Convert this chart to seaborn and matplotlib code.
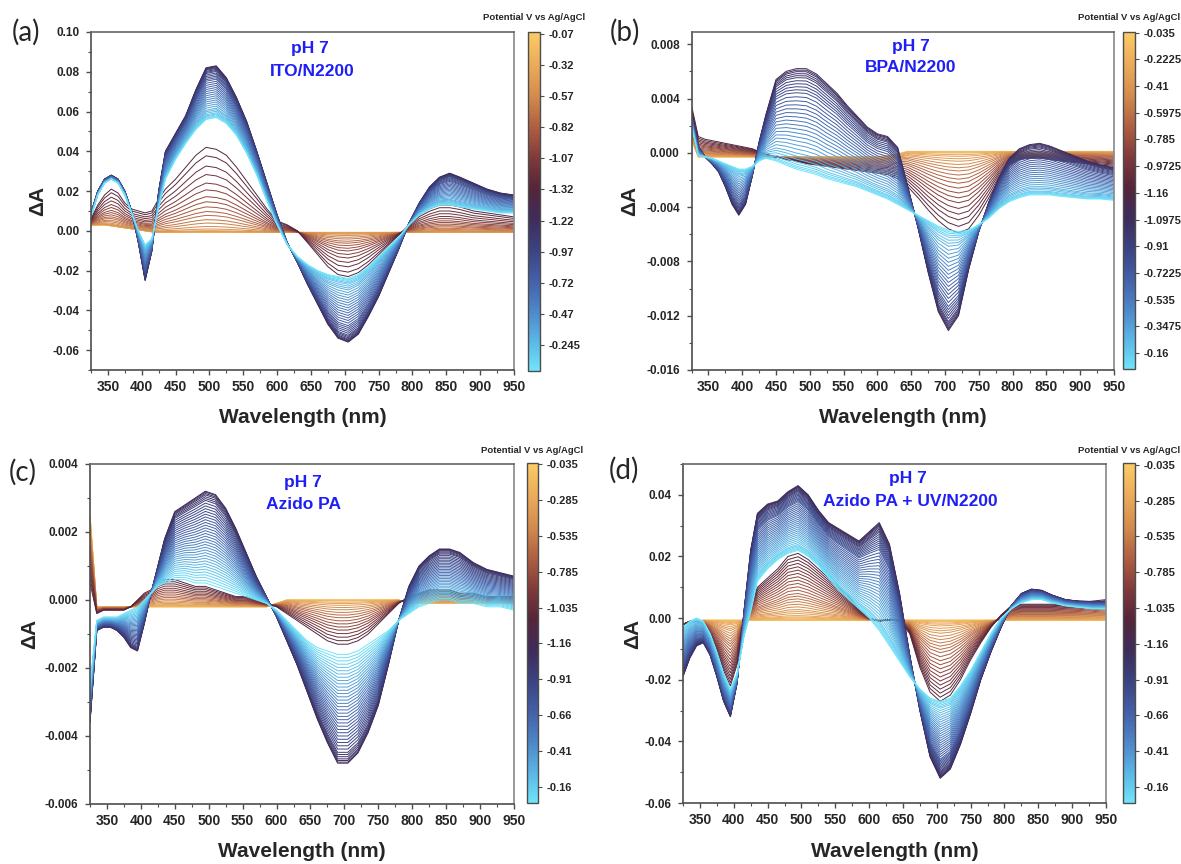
import numpy as np
import pandas as pd
import matplotlib
matplotlib.use("Agg")
import matplotlib.pyplot as plt
import seaborn as sns
from matplotlib.colors import LinearSegmentedColormap, Normalize
from matplotlib.cm import ScalarMappable
from matplotlib.ticker import MultipleLocator

# ---------------- data ----------------
WL = [325, 335, 345, 355, 365, 375, 385, 395, 405, 415, 425, 435,
      450, 465, 480, 495, 510, 525, 540, 555, 570, 585, 600, 615, 630, 645,
      660, 675, 690, 705, 720, 735, 750, 765, 780, 795, 810, 825, 840, 855,
      870, 890, 910, 930, 950]

# panel (a) ITO/N2200
A_BASE = [0.003, 0.003, 0.003, 0.0025, 0.002, 0.0015, 0.001, 0.0005, 0.0, -0.0005, -0.0008, -0.0008,
          -0.0008, -0.0008, -0.0008, -0.0008, -0.0008, -0.0008, -0.0008, -0.0008, -0.0008, -0.0008,
          -0.0008, -0.0008, -0.0008, -0.0008, -0.0008, -0.0008, -0.0008, -0.0008, -0.0008, -0.0008,
          -0.0008, -0.0008, -0.0008, -0.0008, -0.0008, -0.0008, -0.0008, -0.0008, -0.0008, -0.0008,
          -0.0008, -0.0008, -0.0008]
A_MAROON = [0.006, 0.013, 0.018, 0.021, 0.019, 0.014, 0.011, 0.010, 0.009, 0.010, 0.016, 0.021,
            0.026, 0.032, 0.038, 0.042, 0.041, 0.038, 0.032, 0.025, 0.018, 0.011, 0.005, 0.003,
            0.0, -0.006, -0.012, -0.018, -0.022, -0.023, -0.021, -0.017, -0.012, -0.007, -0.002,
            0.003, 0.008, 0.011, 0.013, 0.013, 0.012, 0.010, 0.009, 0.008, 0.007]
A_NAVY = [0.009, 0.020, 0.026, 0.028, 0.026, 0.020, 0.010, -0.006, -0.025, -0.010, 0.020, 0.040,
          0.049, 0.058, 0.071, 0.082, 0.083, 0.077, 0.067, 0.055, 0.040, 0.024, 0.008, -0.006,
          -0.016, -0.027, -0.037, -0.047, -0.054, -0.056, -0.052, -0.043, -0.033, -0.021, -0.009,
          0.004, 0.014, 0.022, 0.027, 0.029, 0.027, 0.024, 0.021, 0.019, 0.018]
A_CYAN = [0.007, 0.018, 0.024, 0.026, 0.024, 0.018, 0.009, 0.000, -0.007, -0.004, 0.012, 0.026,
          0.036, 0.044, 0.051, 0.056, 0.057, 0.054, 0.048, 0.039, 0.028, 0.015, 0.003, -0.007,
          -0.013, -0.017, -0.020, -0.022, -0.023, -0.024, -0.022, -0.018, -0.013, -0.008, -0.003,
          0.003, 0.008, 0.011, 0.013, 0.013, 0.012, 0.011, 0.010, 0.009, 0.009]
A_FWD = [0.0, 0.0, 0.0, 0.002, 0.004, 0.006, 0.01, 0.02, 0.04, 0.07, 0.11, 0.15, 0.20, 0.245,
         0.30, 0.36, 0.42, 0.50, 0.58, 0.68, 0.78, 0.90, 1.0]
A_REV = [0.0, 0.01, 0.02, 0.035, 0.05, 0.07, 0.09, 0.11, 0.14, 0.17, 0.20, 0.23, 0.26, 0.30,
         0.34, 0.38, 0.42, 0.46, 0.50, 0.54, 0.58, 0.62, 0.66, 0.70, 0.74, 0.78, 0.82, 0.85,
         0.88, 0.91, 0.93, 0.95, 0.97, 0.985, 1.0]

# panel (b) BPA/N2200
B_BASE = [0.001, -0.0003, -0.0003, -0.0003, -0.0003, -0.0003, -0.0003, -0.0003, -0.0003, -0.0003,
          -0.0003, -0.0003, -0.0003, -0.0003, -0.0003, -0.0003, -0.0003, -0.0003, -0.0003, -0.0003,
          -0.0003, -0.0003, -0.0003, -0.0002, -0.0001, 0.0001, 0.0001, 0.0001, 0.0001, 0.0001,
          0.0001, 0.0001, 0.0001, 0.0001, 0.0001, 0.0001, 0.0001, 0.0001, 0.0001, 0.0001,
          0.0001, 0.0001, 0.0001, 0.0001, 0.0001]
B_MAROON = [0.0035, 0.0012, 0.0010, 0.0009, 0.0008, 0.0007, 0.0006, 0.0005, 0.0004, 0.0003,
            0.0001, -0.0001, -0.0003, -0.0005, -0.0006, -0.0008, -0.0009, -0.0010, -0.0011,
            -0.0012, -0.0013, -0.0014, -0.0015, -0.0016, -0.0019, -0.0025, -0.0033, -0.0042,
            -0.0050, -0.0056, -0.0059, -0.0056, -0.0046, -0.0033, -0.0019, -0.0009, -0.0005,
            -0.0004, -0.0004, -0.0005, -0.0006, -0.0007, -0.0008, -0.0009, -0.0010]
B_NAVY = [0.003, 0.0005, -0.0003, -0.0008, -0.0014, -0.0025, -0.0038, -0.0046, -0.0038, -0.0017,
          0.0008, 0.0028, 0.0054, 0.0060, 0.0062, 0.0062, 0.0058, 0.0051, 0.0044, 0.0035,
          0.0027, 0.0019, 0.0014, 0.0012, 0.0004, -0.0025, -0.0055, -0.0088, -0.0117, -0.0131,
          -0.0120, -0.0086, -0.0058, -0.0036, -0.0018, -0.0004, 0.0003, 0.0006, 0.0007, 0.0005,
          0.0002, -0.0002, -0.0006, -0.0009, -0.0011]
B_CYAN = [0.002, -0.0002, -0.0003, -0.0004, -0.0006, -0.0008, -0.0010, -0.0012, -0.0012, -0.0010,
          -0.0006, -0.0004, -0.0006, -0.0009, -0.0012, -0.0014, -0.0016, -0.0019, -0.0021, -0.0023,
          -0.0025, -0.0028, -0.0031, -0.0034, -0.0038, -0.0042, -0.0046, -0.0050, -0.0054, -0.0057,
          -0.0058, -0.0057, -0.0053, -0.0048, -0.0041, -0.0036, -0.0033, -0.0031, -0.0031, -0.0031,
          -0.0032, -0.0033, -0.0034, -0.0034, -0.0035]
B_FWD = [0.0, 0.0, 0.0, 0.01, 0.02, 0.04, 0.06, 0.09, 0.12, 0.16, 0.20, 0.24, 0.29, 0.34, 0.39,
         0.45, 0.51, 0.57, 0.63, 0.70, 0.77, 0.84, 0.92, 1.0]
B_REV = [0.0, 0.015, 0.03, 0.05, 0.07, 0.09, 0.12, 0.15, 0.18, 0.21, 0.24, 0.28, 0.32, 0.36,
         0.40, 0.44, 0.48, 0.52, 0.56, 0.60, 0.64, 0.68, 0.72, 0.76, 0.80, 0.84, 0.87, 0.90,
         0.93, 0.95, 0.97, 0.985, 1.0]

# panel (c) Azido PA
C_BASE = [0.0025, -0.0002, -0.0002, -0.0002, -0.0002, -0.0002, -0.0002, -0.0002, -0.0002, -0.0002,
          -0.0002, -0.0002, -0.0002, -0.0002, -0.0002, -0.0002, -0.0002, -0.0002, -0.0002, -0.0002,
          -0.0002, -0.0002, -0.0001, 0.0, 0.0, 0.0, 0.0, 0.0, 0.0, 0.0, 0.0, 0.0, 0.0, 0.0, 0.0,
          -0.0001, -0.0001, -0.0001, -0.0001, -0.0001, -0.0001, -0.0001, -0.0001, -0.0001, -0.0001]
C_MAROON = [0.0005, -0.0004, -0.0003, -0.0003, -0.0003, -0.0003, -0.0002, 0.0, 0.0002, 0.0003,
            0.0005, 0.0006, 0.0006, 0.0005, 0.0004, 0.0004, 0.0003, 0.0002, 0.0001, 0.0001,
            0.0, -0.0001, -0.0002, -0.0004, -0.0006, -0.0008, -0.0010, -0.0012, -0.0013, -0.0013,
            -0.0012, -0.0010, -0.0007, -0.0004, -0.0001, 0.0001, 0.0002, 0.0003, 0.0003, 0.0003,
            0.0002, 0.0002, 0.0001, 0.0001, 0.0001]
C_NAVY = [-0.0036, -0.0009, -0.0008, -0.0008, -0.0009, -0.0011, -0.0014, -0.0015, -0.0007, 0.0002,
          0.0010, 0.0018, 0.0026, 0.0028, 0.0030, 0.0032, 0.0031, 0.0027, 0.0021, 0.0014,
          0.0007, 0.0001, -0.0005, -0.0012, -0.0019, -0.0027, -0.0035, -0.0042, -0.0048, -0.0048,
          -0.0045, -0.0039, -0.0031, -0.0019, -0.0006, 0.0004, 0.0010, 0.0013, 0.0015, 0.0015,
          0.0014, 0.0011, 0.0009, 0.0008, 0.0007]
C_CYAN = [-0.0025, -0.0006, -0.0005, -0.0005, -0.0005, -0.0004, -0.0003, -0.0002, 0.0, 0.0002,
          0.0004, 0.0005, 0.0006, 0.0006, 0.0005, 0.0005, 0.0004, 0.0003, 0.0002, 0.0001,
          0.0, -0.0001, -0.0003, -0.0006, -0.0009, -0.0012, -0.0014, -0.0015, -0.0016, -0.0016,
          -0.0015, -0.0013, -0.0011, -0.0009, -0.0006, -0.0004, -0.0002, -0.0001, 0.0, 0.0,
          -0.0001, -0.0001, -0.0002, -0.0002, -0.0003]
C_FWD = [0.0, 0.0, 0.0, 0.02, 0.05, 0.08, 0.12, 0.17, 0.22, 0.28, 0.34, 0.40, 0.47, 0.54, 0.61,
         0.68, 0.76, 0.84, 0.92, 1.0]
C_REV = [0.0, 0.01, 0.025, 0.04, 0.06, 0.08, 0.10, 0.13, 0.16, 0.19, 0.22, 0.25, 0.28, 0.31,
         0.34, 0.37, 0.40, 0.43, 0.46, 0.49, 0.52, 0.55, 0.58, 0.61, 0.64, 0.67, 0.70, 0.73,
         0.76, 0.79, 0.82, 0.85, 0.88, 0.91, 0.94, 0.97, 1.0]

# panel (d) Azido PA + UV/N2200
D_BASE = [-0.002, -0.0015, -0.001, -0.0007, -0.0007, -0.0007, -0.0007, -0.0007, -0.0007, -0.0007,
          -0.0007, -0.0007, -0.0007, -0.0007, -0.0007, -0.0007, -0.0007, -0.0007, -0.0007, -0.0007,
          -0.0007, -0.0007, -0.0007, -0.0007, -0.0007, -0.0007, -0.0007, -0.0007, -0.0007, -0.0007,
          -0.0007, -0.0007, -0.0007, -0.0007, -0.0007, -0.0007, -0.0007, -0.0007, -0.0007, -0.0007,
          -0.0007, -0.0007, -0.0007, -0.0007, -0.0007]
D_MAROON = [-0.002, -0.001, -0.001, -0.002, -0.006, -0.011, -0.017, -0.022, -0.015, 0.0,
            0.005, 0.010, 0.013, 0.016, 0.020, 0.021, 0.019, 0.016, 0.013, 0.010,
            0.007, 0.003, 0.0, -0.001, -0.0005, -0.001, -0.005, -0.016, -0.024, -0.027,
            -0.025, -0.020, -0.0135, -0.008, -0.003, 0.001, 0.004, 0.0045, 0.0045, 0.0045,
            0.0045, 0.0048, 0.005, 0.0055, 0.006]
D_NAVY = [-0.019, -0.013, -0.009, -0.008, -0.012, -0.019, -0.027, -0.032, -0.021, 0.002,
          0.022, 0.034, 0.037, 0.038, 0.041, 0.043, 0.040, 0.035, 0.031, 0.029,
          0.027, 0.025, 0.028, 0.031, 0.024, 0.008, -0.012, -0.030, -0.045, -0.052,
          -0.049, -0.041, -0.031, -0.020, -0.011, -0.003, 0.004, 0.008, 0.0094, 0.009,
          0.0075, 0.006, 0.0055, 0.0054, 0.0054]
D_CYAN = [-0.003, -0.001, 0.0, -0.001, -0.005, -0.011, -0.018, -0.023, -0.018, -0.006,
          0.002, 0.012, 0.016, 0.019, 0.021, 0.022, 0.020, 0.017, 0.013, 0.009,
          0.006, 0.003, 0.0, -0.004, -0.009, -0.014, -0.019, -0.023, -0.026, -0.027,
          -0.026, -0.022, -0.017, -0.011, -0.005, 0.0, 0.003, 0.005, 0.006, 0.006,
          0.005, 0.004, 0.0035, 0.003, 0.003]
D_FWD = [0.0, 0.0, 0.0, 0.01, 0.02, 0.035, 0.05, 0.07, 0.10, 0.13, 0.16, 0.20, 0.24, 0.28,
         0.32, 0.36, 0.40, 0.45, 0.50, 0.55, 0.60, 0.65, 0.70, 0.75, 0.80, 0.85, 0.90, 0.95, 1.0]
D_REV = [0.0, 0.01, 0.02, 0.03, 0.045, 0.06, 0.075, 0.09, 0.11, 0.13, 0.15, 0.17, 0.19, 0.21,
         0.23, 0.25, 0.28, 0.31, 0.34, 0.37, 0.40, 0.43, 0.46, 0.49, 0.52, 0.55, 0.58, 0.61,
         0.64, 0.67, 0.70, 0.73, 0.76, 0.79, 0.82, 0.85, 0.88, 0.91, 0.93, 0.95, 0.97, 0.985, 1.0]

X_TICKS = [350, 400, 450, 500, 550, 600, 650, 700, 750, 800, 850, 900, 950]
A_YTICKS = [-0.06, -0.04, -0.02, 0.00, 0.02, 0.04, 0.06, 0.08, 0.10]
B_YTICKS = [-0.016, -0.012, -0.008, -0.004, 0.000, 0.004, 0.008]
C_YTICKS = [-0.006, -0.004, -0.002, 0.000, 0.002, 0.004]
D_YTICKS = [-0.06, -0.04, -0.02, 0.00, 0.02, 0.04]

A_CB = ['-0.07', '-0.32', '-0.57', '-0.82', '-1.07', '-1.32', '-1.22', '-0.97', '-0.72', '-0.47', '-0.245']
B_CB = ['-0.035', '-0.2225', '-0.41', '-0.5975', '-0.785', '-0.9725', '-1.16', '-1.0975', '-0.91',
        '-0.7225', '-0.535', '-0.3475', '-0.16']
C_CB = ['-0.035', '-0.285', '-0.535', '-0.785', '-1.035', '-1.16', '-0.91', '-0.66', '-0.41', '-0.16']
D_CB = ['-0.035', '-0.285', '-0.535', '-0.785', '-1.035', '-1.16', '-0.91', '-0.66', '-0.41', '-0.16']

TITLES = [("pH 7", "ITO/N2200"), ("pH 7", "BPA/N2200"), ("pH 7", "Azido PA"),
          ("pH 7", "Azido PA + UV/N2200")]
LETTERS = ["(a)", "(b)", "(c)", "(d)"]

# colormap, top (t=0) to bottom (t=1)
CMAP_POS = [0.0, 0.10, 0.19, 0.28, 0.37, 0.46, 0.555, 0.65, 0.74, 0.83, 0.92, 1.0]
CMAP_COLORS = ['#FBCB66', '#EAA95A', '#D28A4C', '#AE5E42', '#803A3A', '#55253A',
               '#3E2C5C', '#3B4585', '#4562AA', '#4E8ACA', '#5CBAE7', '#70E4FA']
CMAP = LinearSegmentedColormap.from_list("pot", list(zip(CMAP_POS, CMAP_COLORS)))

# ---------------- style ----------------
sns.set_theme(style="white")
plt.rcParams['font.family'] = ['Liberation Sans', 'DejaVu Sans']

W, H = 1181, 864
fig = plt.figure(figsize=(W / 100, H / 100), dpi=100)


def fx(px):
    return px / W


def fy(py):
    return 1 - py / H


panels = [
    dict(data=(A_BASE, A_MAROON, A_NAVY, A_CYAN, A_FWD, A_REV), yt=A_YTICKS, fmt="{:.2f}",
         ylim=(-0.07, 0.10), minor=0.01, cb=A_CB, cb_t0=0.005, cb_dt=0.0919,
         ax_px=(91, 32, 514, 370), cb_px=(528, 32, 540, 371), cbt=(534, 18),
         ylab_x=-0.125, xlab_y=-0.142, letter=(12, 32), title=((310, 49), (312, 71))),
    dict(data=(B_BASE, B_MAROON, B_NAVY, B_CYAN, B_FWD, B_REV), yt=B_YTICKS, fmt="{:.3f}",
         ylim=(-0.016, 0.0089), minor=0.002, cb=B_CB, cb_t0=0.002, cb_dt=0.0792,
         ax_px=(691.5, 32, 1114, 370), cb_px=(1123, 32, 1135, 369), cbt=(1129, 17),
         ylab_x=-0.146, xlab_y=-0.142, letter=(610, 32), title=((911, 47), (911, 68))),
    dict(data=(C_BASE, C_MAROON, C_NAVY, C_CYAN, C_FWD, C_REV), yt=C_YTICKS, fmt="{:.3f}",
         ylim=(-0.006, 0.004), minor=0.001, cb=C_CB, cb_t0=0.004, cb_dt=0.1053,
         ax_px=(90, 464, 514, 804), cb_px=(526.5, 463, 538, 803), cbt=(532, 450),
         ylab_x=-0.142, xlab_y=-0.141, letter=(9, 472), title=((303, 483), (303, 505))),
    dict(data=(D_BASE, D_MAROON, D_NAVY, D_CYAN, D_FWD, D_REV), yt=D_YTICKS, fmt="{:.2f}",
         ylim=(-0.06, 0.05), minor=0.01, cb=D_CB, cb_t0=0.005, cb_dt=0.1053,
         ax_px=(683, 464, 1106, 803), cb_px=(1123, 463, 1135, 803), cbt=(1129, 450),
         ylab_x=-0.12, xlab_y=-0.144, letter=(609, 470), title=((908, 479), (910, 501))),
]

SPINE = '#4d4d4d'

for k, p in enumerate(panels):
    x0, y0, x1, y1 = p['ax_px']
    ax = fig.add_axes([fx(x0), fy(y1), fx(x1 - x0), (y1 - y0) / H])
    base, maroon, navy, cyan, fwd, rev = p['data']

    rows = []
    pal = {}
    cid = 0
    nf, nr = len(fwd), len(rev)
    for i, f in enumerate(fwd):
        vals = [b + f * (m - b) for b, m in zip(base, maroon)]
        for w_, v in zip(WL, vals):
            rows.append((cid, w_, v))
        pal[cid] = CMAP(0.47 * i / (nf - 1))
        cid += 1
    for j, w in enumerate(rev):
        vals = [n + w * (c - n) for n, c in zip(navy, cyan)]
        for w_, v in zip(WL, vals):
            rows.append((cid, w_, v))
        pal[cid] = CMAP(0.54 + 0.46 * j / (nr - 1))
        cid += 1
    df = pd.DataFrame(rows, columns=['curve', 'wl', 'dA'])
    sns.lineplot(data=df, x='wl', y='dA', hue='curve', palette=pal, hue_order=list(pal.keys()),
                 linewidth=0.7, legend=False, estimator=None, sort=False, ax=ax)

    ax.set_xlim(325, 950)
    ax.set_ylim(*p['ylim'])
    ax.set_xticks(X_TICKS, [str(t) for t in X_TICKS], fontsize=10, fontweight='bold')
    ax.set_yticks(p['yt'], [p['fmt'].format(t) for t in p['yt']], fontsize=8.5, fontweight='bold')
    ax.xaxis.set_minor_locator(MultipleLocator(25))
    ax.yaxis.set_minor_locator(MultipleLocator(p['minor']))
    ax.tick_params(which='major', direction='out', length=3.5, width=1, color=SPINE,
                   bottom=True, left=True, top=False, right=False)
    ax.tick_params(which='minor', direction='out', length=2, width=0.8, color=SPINE,
                   bottom=True, left=True, top=False, right=False)
    ax.tick_params(axis='x', pad=4)
    ax.tick_params(axis='y', pad=5)
    for s in ax.spines.values():
        s.set_color(SPINE)
        s.set_linewidth(1.2)
    ax.spines['top'].set_color('#666666')
    ax.spines['right'].set_color('#888888')

    ax.set_xlabel('Wavelength (nm)', fontsize=15, fontweight='bold')
    ax.set_ylabel('ΔA', fontsize=15, fontweight='bold')
    ax.xaxis.label.set_va('center')
    ax.yaxis.label.set_va('center')
    ax.xaxis.set_label_coords(0.5, p['xlab_y'])
    ax.yaxis.set_label_coords(p['ylab_x'], 0.5)

    # annotation text
    (t1x, t1y), (t2x, t2y) = p['title']
    fig.text(fx(t1x), fy(t1y), TITLES[k][0], color='#1E1EF5', fontsize=12.5, fontweight='bold',
             ha='center', va='center')
    fig.text(fx(t2x), fy(t2y), TITLES[k][1], color='#1E1EF5', fontsize=12.5, fontweight='bold',
             ha='center', va='center')
    fig.text(fx(p['letter'][0]), fy(p['letter'][1]), LETTERS[k], fontsize=20,
             family=['Lato', 'DejaVu Sans'], ha='left', va='center')

    # colorbar
    c0, cy0, c1, cy1 = p['cb_px']
    cax = fig.add_axes([fx(c0), fy(cy1), fx(c1 - c0), (cy1 - cy0) / H])
    cb = fig.colorbar(ScalarMappable(norm=Normalize(0, 1), cmap=CMAP), cax=cax)
    cax.invert_yaxis()
    ticks = [p['cb_t0'] + p['cb_dt'] * i for i in range(len(p['cb']))]
    cb.set_ticks(ticks)
    cb.set_ticklabels(p['cb'])
    cax.tick_params(labelsize=8, length=3, width=0.8, pad=3, color=SPINE, right=True)
    for lbl in cax.get_yticklabels():
        lbl.set_fontweight('bold')
    cb.outline.set_edgecolor(SPINE)
    cb.outline.set_linewidth(1.0)
    fig.text(fx(p['cbt'][0]), fy(p['cbt'][1]), 'Potential V vs Ag/AgCl', fontsize=6.8,
             fontweight='bold', ha='center', va='center')

fig.savefig('out.png', dpi=100)
